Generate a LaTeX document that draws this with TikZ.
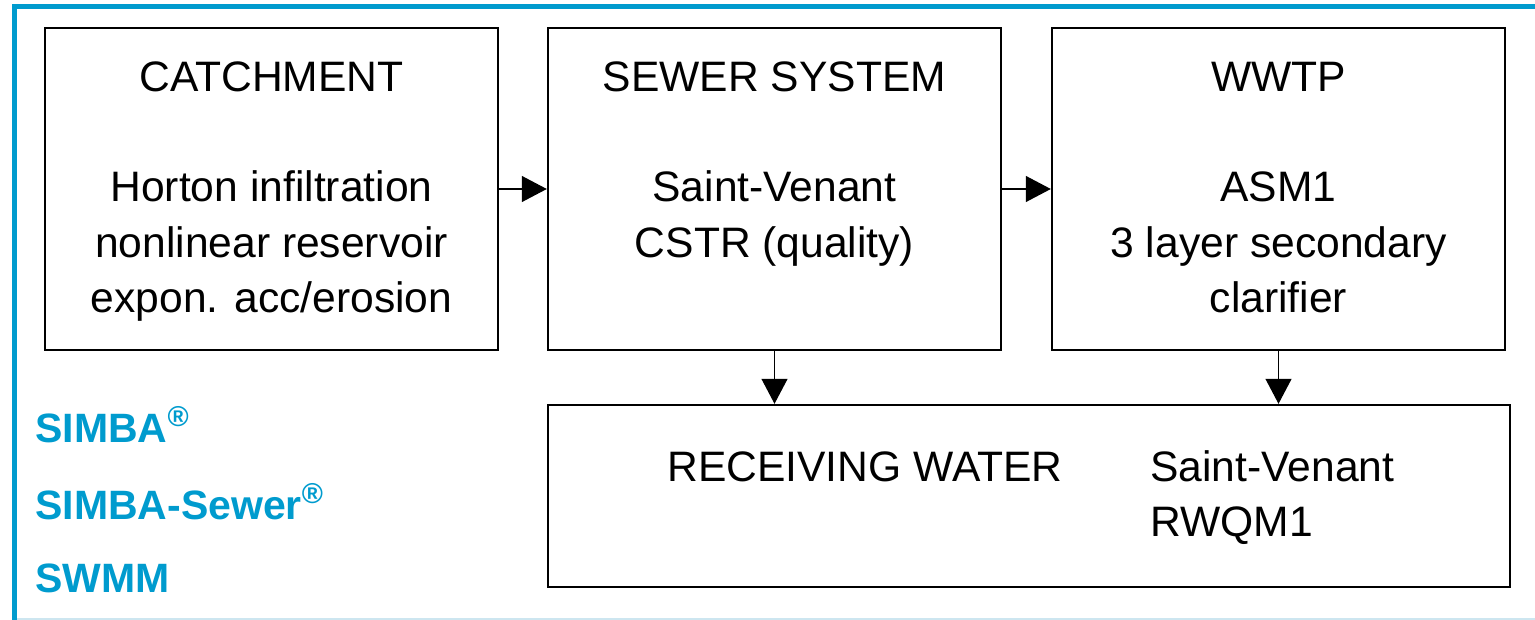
\documentclass[tikz,border=0pt]{standalone}
\usepackage{fontspec}
\setmainfont{Liberation Sans}
\usetikzlibrary{arrows.meta,fit}
\definecolor{simblue}{RGB}{0,155,206}
\definecolor{faintblue}{RGB}{205,230,240}
\begin{document}
\begin{tikzpicture}[x=0.5pt,y=-0.5pt,
  box/.style={draw=black, line width=1.2pt, inner sep=0pt, rectangle},
  txt/.style={anchor=base, inner sep=0pt, font=\fontsize{21.3}{27.5}\selectfont},
  ltxt/.style={txt, anchor=base west},
  btxt/.style={ltxt, text=simblue, font=\fontsize{20.5}{27.5}\selectfont\bfseries},
  arr/.style={line width=0.6pt, -{Triangle[length=12.5pt,width=13pt]}},
  frame/.style={draw=simblue, line width=2.5pt}]
\useasboundingbox (0,0) rectangle (1535,620);
% frame
\coordinate (f1) at (14.5,620);
\coordinate (f2) at (14.5,6.5);
\coordinate (f3) at (1535,6.5);
\draw[frame, line cap=rect] (f1) -- (f2) -- (f3);
\coordinate (g1) at (17,619);
\coordinate (g2) at (1535,619);
\draw[faintblue, line width=1pt] (g1) -- (g2);
% boxes
\node[box, fit={(45,28) (498,350)}] (catch) {};
\node[box, fit={(548,28) (1001,350)}] (sewer) {};
\node[box, fit={(1052,28) (1505,350)}] (wwtp) {};
\node[box, fit={(548,405) (1510,587)}] (recv) {};
% texts
\node[txt] (catchT) at (271.5,92) {CATCHMENT};
\node[txt] (catch1) at (271.5,202) {Horton infiltration};
\node[txt] (catch2) at (271.5,257) {nonlinear reservoir};
\node[txt] (catch3) at (271.5,312) {expon. acc/erosion};
\node[txt] (sewerT) at (774.5,92) {SEWER SYSTEM};
\node[txt] (sewer1) at (774.5,202) {Saint-Venant};
\node[txt] (sewer2) at (774.5,257) {CSTR (quality)};
\node[txt] (wwtpT) at (1278.5,92) {WWTP};
\node[txt] (wwtp1) at (1278.5,202) {ASM1};
\node[txt] (wwtp2) at (1278.5,257) {3 layer secondary};
\node[txt] (wwtp3) at (1278.5,312) {clarifier};
\node[txt] (recvT) at (865,481) {RECEIVING WATER};
\node[ltxt] (recv1) at (1150,481) {Saint-Venant};
\node[ltxt] (recv2) at (1150,536) {RWQM1};
\node[btxt] (s1) at (35,442) {SIMBA\textsuperscript{®}};
\node[btxt] (s2) at (35,519) {SIMBA-Sewer\textsuperscript{®}};
\node[btxt] (s3) at (35,592) {SWMM};
% arrows
\draw[arr] (catch.east) -- (sewer.west);
\draw[arr] (sewer.east) -- (wwtp.west);
\draw[arr] (sewer.south) -- (sewer.south |- recv.north);
\draw[arr] (wwtp.south) -- (wwtp.south |- recv.north);
\end{tikzpicture}
\end{document}
